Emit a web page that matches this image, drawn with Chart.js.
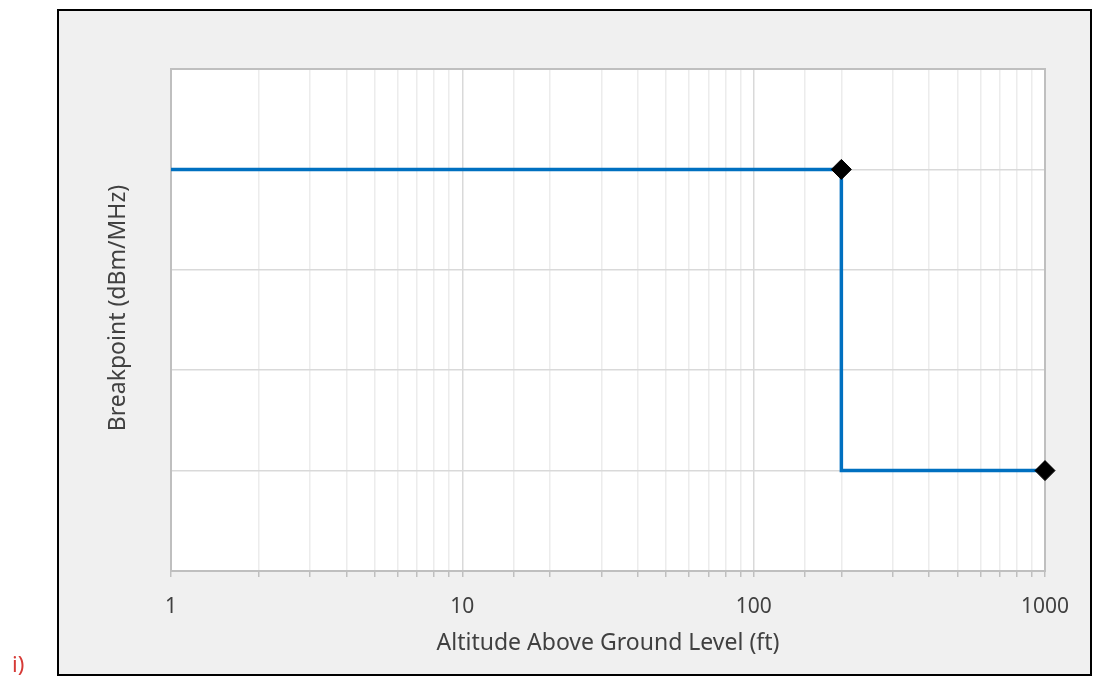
<!DOCTYPE html>
<html>
<head>
<meta charset="utf-8">
<script src="https://cdn.jsdelivr.net/npm/chart.js@4/dist/chart.umd.min.js"></script>
<style>
  html, body { margin: 0; padding: 0; background: #ffffff; overflow: hidden; }
  #wrap { position: relative; width: 1101px; height: 680px; }
  #c { position: absolute; left: 0; top: 0; }
  #lbl { position: absolute; left: 12px; top: 652px; line-height: 22px; font-family: "Noto Sans", sans-serif; font-size: 22px; color: #d63a36; }
</style>
</head>
<body>
<div id="wrap">
  <canvas id="c" width="1101" height="680"></canvas>
  <span id="lbl">i)</span>
</div>
<script>
// Data
const altitudes = [1, 200, 200, 1000];
const breakpoints = [4, 4, 1, 1];
const markerRadii = [0, 10, 0, 10];
const xTickLabels = [1, 10, 100, 1000];
const xTitle = 'Altitude Above Ground Level (ft)';
const yTitle = '    Breakpoint (dBm/MHz)';

const FONT = '"Noto Sans", sans-serif';
const TEXT = '#404040';

const frame = {
  id: 'frame',
  beforeDraw(chart) {
    const ctx = chart.ctx;
    const a = chart.chartArea;
    ctx.save();
    ctx.fillStyle = '#f0f0f0';
    ctx.fillRect(58, 10, 1033, 665);
    ctx.strokeStyle = '#000000';
    ctx.lineWidth = 2;
    ctx.strokeRect(58, 10, 1033, 665);
    ctx.fillStyle = '#ffffff';
    ctx.fillRect(a.left, a.top, a.right - a.left, a.bottom - a.top);
    ctx.restore();
  },
  beforeDatasetsDraw(chart) {
    const ctx = chart.ctx;
    const a = chart.chartArea;
    ctx.save();
    ctx.strokeStyle = '#bfbfbf';
    ctx.lineWidth = 2;
    ctx.strokeRect(a.left, a.top, a.right - a.left, a.bottom - a.top);
    ctx.restore();
  }
};

const isMajor = v => xTickLabels.includes(v);

new Chart(document.getElementById('c'), {
  type: 'scatter',
  data: {
    datasets: [{
      data: altitudes.map((x, i) => ({ x: x, y: breakpoints[i] })),
      showLine: true,
      clip: false,
      borderColor: '#0070c0',
      borderWidth: 3.5,
      pointStyle: 'rectRot',
      pointRadius: markerRadii,
      pointBackgroundColor: '#000000',
      pointBorderColor: '#000000',
      pointBorderWidth: 1,
      pointHoverRadius: markerRadii
    }]
  },
  options: {
    responsive: false,
    animation: false,
    events: [],
    layout: { padding: { left: 105, right: 56, top: 69, bottom: 23 } },
    plugins: { legend: { display: false }, tooltip: { enabled: false } },
    scales: {
      x: {
        type: 'logarithmic',
        min: 1,
        max: 1000,
        afterFit(s) { s.height = 86; },
        border: { display: true, color: '#bfbfbf', width: 2 },
        grid: {
          color: c => (c.tick && isMajor(c.tick.value)) ? '#d9d9d9' : '#ececec',
          tickColor: '#bfbfbf',
          tickLength: 6,
          lineWidth: 1.5
        },
        ticks: {
          autoSkip: false,
          maxRotation: 0,
          padding: 17,
          color: TEXT,
          font: { family: FONT, size: 21 },
          callback: v => isMajor(v) ? String(v) : ''
        },
        title: {
          display: true,
          text: xTitle,
          color: TEXT,
          font: { family: FONT, size: 23 },
          padding: { top: 0, bottom: 0 }
        }
      },
      y: {
        min: 0,
        max: 5,
        afterFit(s) { s.width = 66; },
        border: { display: true, color: '#bfbfbf', width: 2 },
        grid: { color: '#d9d9d9', lineWidth: 1.5, drawTicks: false },
        ticks: { display: false, stepSize: 1 },
        title: {
          display: true,
          text: yTitle,
          color: TEXT,
          font: { family: FONT, size: 23 },
          padding: { top: 0, bottom: 0 }
        }
      }
    }
  },
  plugins: [frame]
});
</script>
</body>
</html>
